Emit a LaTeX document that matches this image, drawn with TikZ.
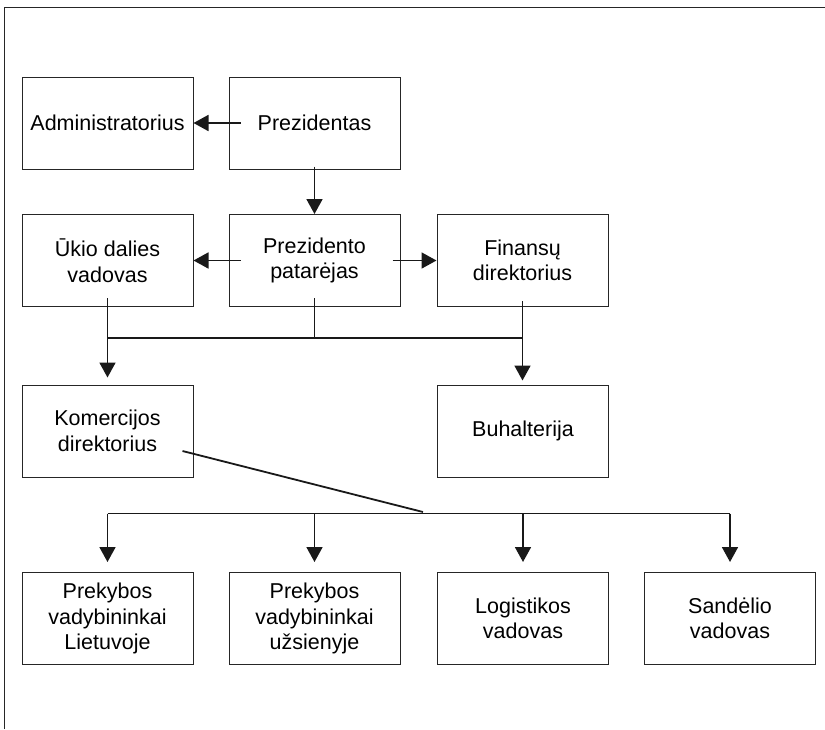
\documentclass[tikz,border=0pt]{standalone}
\usepackage{fontspec}
\setmainfont{Liberation Sans}
\usetikzlibrary{arrows.meta}
\begin{document}
\begin{tikzpicture}[x=1pt,y=-1pt,
  unit/.style={draw=black!85, line width=1pt, minimum width=171pt, minimum height=92pt,
    inner sep=0pt, align=center, font=\fontsize{21.5}{25.5}\selectfont},
  link/.style={draw=black!90, line width=1.8pt},
  arr/.style={link, -{Triangle[length=15pt,width=16pt]}}]
\useasboundingbox (0,0) rectangle (825,729);
% open frame: top and left edges only
\draw[line width=1pt, black!85] (4,729) -- (4,7) -- (825,7);

% top rows
\node[unit] (adm)   at (107.5,123)   {Administratorius};
\node[unit] (pres)  at (314.5,123)   {Prezidentas};
\node[unit] (ukio)  at (107.5,260.5) {Ūkio dalies\\vadovas};
\node[unit] (patar) at (314.5,260.5) {Prezidento\\patarėjas};
\node[unit] (fin)   at (522.5,260.5) {Finansų\\direktorius};
% middle row
\node[unit] (kom)   at (107.5,431)   {Komercijos\\direktorius};
\node[unit] (buh)   at (523,431)     {Buhalterija};
% bottom row
\node[unit] (pl)    at (107.5,618.5) {Prekybos\\vadybininkai\\Lietuvoje};
\node[unit] (pu)    at (314.5,618.5) {Prekybos\\vadybininkai\\užsienyje};
\node[unit] (log)   at (523,618.5)   {Logistikos\\vadovas};
\node[unit] (san)   at (730,618.5)   {Sandėlio\\vadovas};

% bus lines
\coordinate (busA) at (314.5,338);
\coordinate (busB) at (423,513.5);

% president and adviser
\draw[arr] ([xshift=12pt]pres.west) -- (adm.east);
\draw[arr] ([yshift=3pt]pres.south) -- (patar.north);
\draw[arr] ([xshift=12pt]patar.west) -- (ukio.east);
\draw[arr] ([xshift=-8pt]patar.east) -- (fin.west);

% second row down to the middle row
\draw[link] ([yshift=9pt]patar.south) -- (busA);
\draw[link] (ukio.south |- busA) -- (fin.south |- busA);
\draw[arr, shorten >=7pt] ([yshift=9pt]ukio.south) -- (kom.north);
\draw[arr, shorten >=4pt] ([yshift=6pt]fin.south) -- (fin.south |- buh.north);

% commercial director to the bottom row
\draw[link] ([xshift=-11pt,yshift=-20pt]kom.east) -- ([yshift=1.5pt]busB);
\draw[link] (pl.north |- busB) -- (san.north |- busB);
\foreach \n in {pl,pu,log,san}
  \draw[arr, shorten >=10pt] (\n.north |- busB) -- (\n.north);
\end{tikzpicture}
\end{document}
